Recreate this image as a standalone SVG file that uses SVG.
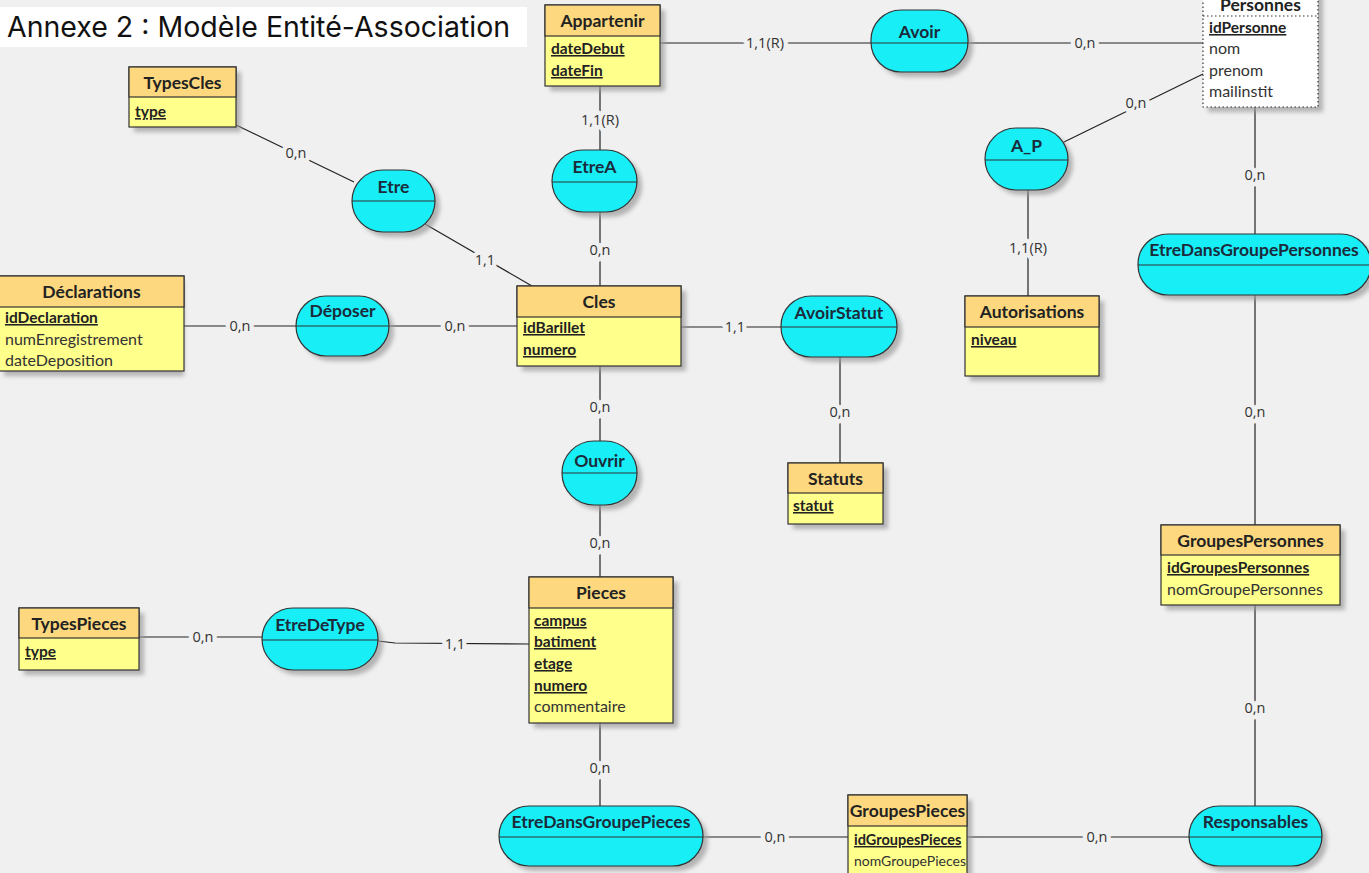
<svg xmlns="http://www.w3.org/2000/svg" width="1369" height="873" viewBox="0 0 1369 873">
<defs>
<filter id="blur" x="-10%" y="-10%" width="130%" height="130%"><feGaussianBlur stdDeviation="2"/></filter>
<style>
.sh{fill:#9a9a9a;opacity:.7;filter:url(#blur)}
.hd{fill:#fdd87e;stroke:#333;stroke-width:1.2}
.bd{fill:#ffff8c;stroke:#333;stroke-width:1.2}
.et{font-family:Lato,"Liberation Sans",sans-serif;font-weight:bold;font-size:17.5px;fill:#222;text-anchor:middle}
.pk{font-family:Lato,"Liberation Sans",sans-serif;font-weight:bold;font-size:15.5px;fill:#222;text-decoration:underline}
.at{font-family:Lato,"Liberation Sans",sans-serif;font-size:16px;fill:#333}
.as{fill:#18eef6;stroke:#333;stroke-width:1.2}
.dv{stroke:#333;stroke-width:1.2}
.an{font-family:Lato,"Liberation Sans",sans-serif;font-weight:bold;font-size:17.5px;fill:#1b2b3b;text-anchor:middle}
.cn{stroke:#222;stroke-width:1.2;fill:none}
.lb{font-family:"Open Sans","Liberation Sans",sans-serif;font-size:14.5px;fill:#333;text-anchor:middle;stroke:#f0f0f0;stroke-width:9;stroke-linejoin:round;paint-order:stroke}
</style>
</defs>
<rect width="1369" height="873" fill="#f0f0f0"/>
<rect x="0" y="7" width="527" height="40" fill="#fff"/>
<text x="7" y="37" font-family="Inter,Roboto,sans-serif" font-size="28.5" fill="#111">Annexe 2 : Modèle Entité-Association</text>

<g id="connectors">
<line class="cn" x1="660" y1="43" x2="871" y2="43"/>
<line class="cn" x1="968" y1="43" x2="1203" y2="43"/>
<line class="cn" x1="236" y1="125" x2="354" y2="182"/>
<line class="cn" x1="425" y1="224" x2="532" y2="286"/>
<line class="cn" x1="600" y1="86" x2="600" y2="150"/>
<line class="cn" x1="600" y1="212" x2="600" y2="286"/>
<line class="cn" x1="184" y1="326" x2="296" y2="326"/>
<line class="cn" x1="389" y1="326" x2="517" y2="326"/>
<line class="cn" x1="681" y1="327" x2="781" y2="327"/>
<line class="cn" x1="840" y1="357" x2="840" y2="463"/>
<line class="cn" x1="1064" y1="142" x2="1203" y2="74"/>
<line class="cn" x1="1028" y1="190" x2="1028" y2="296"/>
<line class="cn" x1="1255" y1="107" x2="1255" y2="234"/>
<line class="cn" x1="1255" y1="295" x2="1255" y2="525"/>
<line class="cn" x1="1255" y1="605" x2="1255" y2="806"/>
<line class="cn" x1="600" y1="366" x2="600" y2="441"/>
<line class="cn" x1="600" y1="505" x2="600" y2="577"/>
<line class="cn" x1="139" y1="637" x2="262" y2="637"/>
<polyline class="cn" points="378,641 395,643 529,644"/>
<line class="cn" x1="600" y1="723" x2="600" y2="806"/>
<line class="cn" x1="703" y1="837" x2="848" y2="837"/>
<line class="cn" x1="967" y1="837" x2="1189" y2="837"/>
<text class="lb" x="765" y="48">1,1(R)</text>
<text class="lb" x="1085" y="48">0,n</text>
<text class="lb" x="296" y="158">0,n</text>
<text class="lb" x="485" y="265">1,1</text>
<text class="lb" x="600" y="125">1,1(R)</text>
<text class="lb" x="600" y="255">0,n</text>
<text class="lb" x="240" y="331">0,n</text>
<text class="lb" x="455" y="331">0,n</text>
<text class="lb" x="735" y="332">1,1</text>
<text class="lb" x="840" y="417">0,n</text>
<text class="lb" x="1136" y="108">0,n</text>
<text class="lb" x="1028" y="253">1,1(R)</text>
<text class="lb" x="1255" y="180">0,n</text>
<text class="lb" x="1255" y="417">0,n</text>
<text class="lb" x="1255" y="713">0,n</text>
<text class="lb" x="600" y="412">0,n</text>
<text class="lb" x="600" y="548">0,n</text>
<text class="lb" x="203" y="642">0,n</text>
<text class="lb" x="455" y="649">1,1</text>
<text class="lb" x="600" y="773">0,n</text>
<text class="lb" x="775" y="842">0,n</text>
<text class="lb" x="1097" y="842">0,n</text>
</g>

<g id="TypesCles">
<rect class="sh" x="134" y="72" width="107" height="60"/>
<rect class="bd" x="129" y="67" width="107" height="60"/>
<rect class="hd" x="129" y="67" width="107" height="30"/>
<text class="et" x="182.5" y="89">TypesCles</text>
<text class="pk" x="135" y="117">type</text>
</g>

<g id="Appartenir">
<rect class="sh" x="550" y="10" width="115" height="81"/>
<rect class="bd" x="545" y="5" width="115" height="81"/>
<rect class="hd" x="545" y="5" width="115" height="31"/>
<text class="et" x="602.5" y="27">Appartenir</text>
<text class="pk" x="551" y="54">dateDebut</text>
<text class="pk" x="551" y="76">dateFin</text>
</g>

<g id="Personnes">
<rect class="sh" x="1208" y="-15" width="115" height="127"/>
<rect x="1203" y="-20" width="115" height="127" fill="#fff" stroke="#333" stroke-width="1.2" stroke-dasharray="1.5,2.5"/>
<line x1="1203" y1="16" x2="1318" y2="16" stroke="#333" stroke-width="1.2" stroke-dasharray="1.5,2.5"/>
<text class="et" x="1260.5" y="11">Personnes</text>
<text class="pk" x="1209" y="33">idPersonne</text>
<text class="at" x="1209" y="54">nom</text>
<text class="at" x="1209" y="76">prenom</text>
<text class="at" x="1209" y="97">mailinstit</text>
</g>

<g id="Declarations">
<rect class="sh" x="4" y="281" width="180" height="95"/>
<rect class="bd" x="-1" y="276" width="185" height="95"/>
<rect class="hd" x="-1" y="276" width="185" height="31"/>
<text class="et" x="91.5" y="298">Déclarations</text>
<text class="pk" x="5" y="323">idDeclaration</text>
<text class="at" x="5" y="345">numEnregistrement</text>
<text class="at" x="5" y="366">dateDeposition</text>
</g>

<g id="Cles">
<rect class="sh" x="522" y="291" width="164" height="80"/>
<rect class="bd" x="517" y="286" width="164" height="80"/>
<rect class="hd" x="517" y="286" width="164" height="31"/>
<text class="et" x="599" y="308">Cles</text>
<text class="pk" x="523" y="333">idBarillet</text>
<text class="pk" x="523" y="355">numero</text>
</g>

<g id="Autorisations">
<rect class="sh" x="970" y="301" width="134" height="80"/>
<rect class="bd" x="965" y="296" width="134" height="80"/>
<rect class="hd" x="965" y="296" width="134" height="31"/>
<text class="et" x="1032" y="318">Autorisations</text>
<text class="pk" x="971" y="345">niveau</text>
</g>

<g id="Statuts">
<rect class="sh" x="793" y="468" width="95" height="61"/>
<rect class="bd" x="788" y="463" width="95" height="61"/>
<rect class="hd" x="788" y="463" width="95" height="30"/>
<text class="et" x="835.5" y="485">Statuts</text>
<text class="pk" x="793" y="511">statut</text>
</g>

<g id="Pieces">
<rect class="sh" x="534" y="582" width="144" height="146"/>
<rect class="bd" x="529" y="577" width="144" height="146"/>
<rect class="hd" x="529" y="577" width="144" height="31"/>
<text class="et" x="601" y="599">Pieces</text>
<text class="pk" x="534" y="626">campus</text>
<text class="pk" x="534" y="647">batiment</text>
<text class="pk" x="534" y="669">etage</text>
<text class="pk" x="534" y="691">numero</text>
<text class="at" x="534" y="712">commentaire</text>
</g>

<g id="TypesPieces">
<rect class="sh" x="24" y="613" width="120" height="62"/>
<rect class="bd" x="19" y="608" width="120" height="62"/>
<rect class="hd" x="19" y="608" width="120" height="30"/>
<text class="et" x="79" y="630">TypesPieces</text>
<text class="pk" x="25" y="657">type</text>
</g>

<g id="GroupesPersonnes">
<rect class="sh" x="1166" y="530" width="179" height="80"/>
<rect class="bd" x="1161" y="525" width="179" height="80"/>
<rect class="hd" x="1161" y="525" width="179" height="30"/>
<text class="et" x="1250.5" y="547">GroupesPersonnes</text>
<text class="pk" x="1167" y="573">idGroupesPersonnes</text>
<text class="at" x="1167" y="595">nomGroupePersonnes</text>
</g>

<g id="GroupesPieces">
<rect class="sh" x="853" y="800" width="119" height="90"/>
<rect class="bd" x="848" y="795" width="119" height="90"/>
<rect class="hd" x="848" y="795" width="119" height="31"/>
<text class="et" x="907.5" y="817">GroupesPieces</text>
<text class="pk" x="854" y="845" style="font-size:14.5px">idGroupesPieces</text>
<text class="at" x="854" y="866" style="font-size:14px">nomGroupePieces</text>
</g>

<g id="Avoir">
<rect class="sh" x="876" y="15" width="97" height="62" rx="30"/>
<rect class="as" x="871" y="10" width="97" height="62" rx="30"/>
<line class="dv" x1="871" y1="43" x2="968" y2="43"/>
<text class="an" x="919.5" y="38">Avoir</text>
</g>

<g id="Etre">
<rect class="sh" x="357" y="175" width="83" height="62" rx="31"/>
<rect class="as" x="352" y="170" width="83" height="62" rx="31"/>
<line class="dv" x1="352" y1="201" x2="435" y2="201"/>
<text class="an" x="393.5" y="193">Etre</text>
</g>

<g id="EtreA">
<rect class="sh" x="557" y="155" width="85" height="62" rx="31"/>
<rect class="as" x="552" y="150" width="85" height="62" rx="31"/>
<line class="dv" x1="552" y1="182" x2="637" y2="182"/>
<text class="an" x="594.5" y="173">EtreA</text>
</g>

<g id="A_P">
<rect class="sh" x="990" y="133" width="83" height="62" rx="31"/>
<rect class="as" x="985" y="128" width="83" height="62" rx="31"/>
<line class="dv" x1="985" y1="160" x2="1068" y2="160"/>
<text class="an" x="1026.5" y="152">A_P</text>
</g>

<g id="Deposer">
<rect class="sh" x="301" y="301" width="93" height="60" rx="30"/>
<rect class="as" x="296" y="296" width="93" height="60" rx="30"/>
<line class="dv" x1="296" y1="326" x2="389" y2="326"/>
<text class="an" x="342.5" y="317">Déposer</text>
</g>

<g id="AvoirStatut">
<rect class="sh" x="786" y="301" width="116" height="61" rx="30"/>
<rect class="as" x="781" y="296" width="116" height="61" rx="30"/>
<line class="dv" x1="781" y1="327" x2="897" y2="327"/>
<text class="an" x="839" y="319">AvoirStatut</text>
</g>

<g id="EtreDansGroupePersonnes">
<rect class="sh" x="1143" y="239" width="233" height="61" rx="30"/>
<rect class="as" x="1138" y="234" width="233" height="61" rx="30"/>
<line class="dv" x1="1138" y1="265" x2="1369" y2="265"/>
<text class="an" x="1254" y="256">EtreDansGroupePersonnes</text>
</g>

<g id="Ouvrir">
<rect class="sh" x="567" y="446" width="75" height="64" rx="32"/>
<rect class="as" x="562" y="441" width="75" height="64" rx="32"/>
<line class="dv" x1="562" y1="473" x2="637" y2="473"/>
<text class="an" x="599.5" y="467">Ouvrir</text>
</g>

<g id="EtreDeType">
<rect class="sh" x="267" y="613" width="116" height="62" rx="31"/>
<rect class="as" x="262" y="608" width="116" height="62" rx="31"/>
<line class="dv" x1="262" y1="640" x2="378" y2="640"/>
<text class="an" x="320" y="631">EtreDeType</text>
</g>

<g id="EtreDansGroupePieces">
<rect class="sh" x="504" y="811" width="204" height="60" rx="30"/>
<rect class="as" x="499" y="806" width="204" height="60" rx="30"/>
<line class="dv" x1="499" y1="837" x2="703" y2="837"/>
<text class="an" x="601" y="828">EtreDansGroupePieces</text>
</g>

<g id="Responsables">
<rect class="sh" x="1194" y="811" width="133" height="60" rx="30"/>
<rect class="as" x="1189" y="806" width="133" height="60" rx="30"/>
<line class="dv" x1="1189" y1="837" x2="1322" y2="837"/>
<text class="an" x="1255.5" y="828">Responsables</text>
</g>
</svg>
